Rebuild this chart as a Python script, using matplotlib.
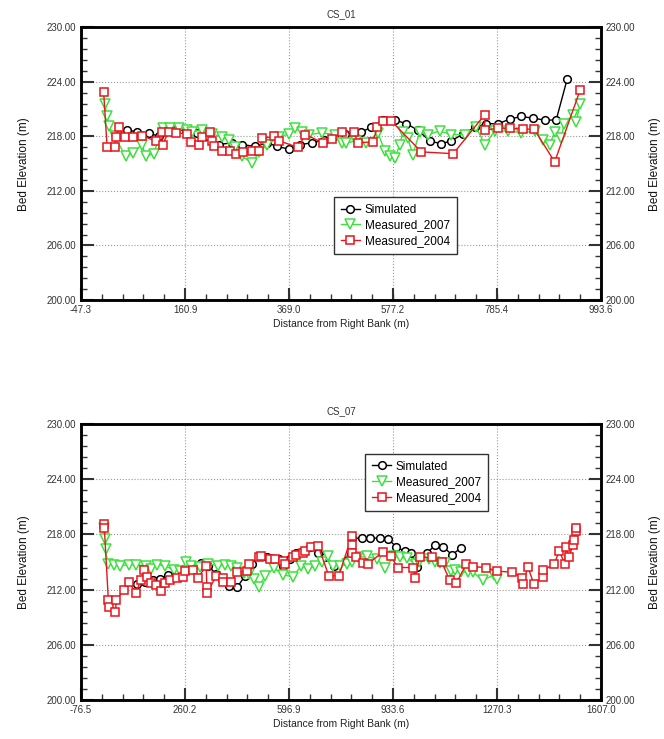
import matplotlib
matplotlib.use("Agg")
import matplotlib.pyplot as plt
from matplotlib.ticker import FixedLocator, AutoMinorLocator, FormatStrFormatter

plt.rcParams['font.family'] = ['Liberation Sans', 'DejaVu Sans']

# ---- CS_01 ----
cs01_xticks = [-47.3, 160.9, 369.0, 577.2, 785.4, 993.6]
cs01_sim_x = [45, 65, 88, 108, 135, 162, 185, 205, 228, 255, 275, 302, 325, 345, 369, 392, 415,
              439, 459, 482, 514, 534, 557, 581, 604, 627, 651, 673, 694, 718, 741, 764, 788,
              811, 834, 858, 881, 904, 926]
cs01_sim_y = [218.7, 218.5, 218.4, 218.0, 218.7, 218.7, 218.4, 218.0, 217.1, 217.3, 217.1, 216.9,
              217.3, 216.9, 216.6, 217.1, 217.3, 217.6, 218.0, 218.3, 218.5, 219.0, 219.8, 219.8,
              219.4, 218.7, 217.5, 217.2, 217.5, 218.3, 219.0, 219.4, 219.4, 219.9, 220.2, 220.0,
              219.8, 219.8, 224.3]
cs01_m07_x = [0, 5, 8, 20, 42, 56, 75, 82, 98, 116, 130, 148, 165, 175, 195, 215, 235, 248, 262,
              275, 295, 310, 325, 349, 369, 382, 395, 409, 435, 462, 475, 484, 504, 524, 547, 561,
              571, 581, 591, 597, 607, 617, 631, 647, 671, 694, 721, 744, 761, 781, 808, 834, 861,
              878, 891, 901, 914, 920, 938, 944, 952]
cs01_m07_y = [221.6, 220.2, 219.1, 218.0, 215.8, 216.2, 217.1, 215.8, 216.1, 218.9, 218.9, 218.9,
              218.7, 218.5, 218.7, 218.3, 217.9, 217.6, 216.8, 215.8, 215.1, 216.3, 217.1, 217.9,
              218.3, 218.9, 218.5, 218.2, 218.4, 218.2, 217.3, 217.3, 217.5, 217.3, 218.4, 216.4,
              215.8, 215.6, 217.1, 218.5, 217.8, 216.0, 218.5, 218.2, 218.6, 218.2, 218.2, 219.0,
              217.1, 218.6, 218.6, 218.4, 218.6, 217.6, 217.1, 218.5, 217.8, 219.4, 220.4, 219.6,
              221.6]
cs01_m04_x = [-2, 5, 20, 23, 28, 40, 56, 74, 102, 114, 116, 128, 142, 165, 172, 188, 195, 210, 214,
              218, 235, 250, 263, 278, 295, 310, 315, 339, 350, 387, 402, 437, 455, 476, 499, 507,
              537, 546, 557, 574, 634, 698, 761, 761, 788, 811, 838, 860, 901, 952]
cs01_m04_y = [222.9, 216.8, 216.8, 217.9, 219.0, 217.9, 217.9, 218.1, 217.5, 218.5, 217.1, 218.5,
              218.4, 218.3, 217.4, 217.1, 217.9, 218.5, 217.5, 216.9, 216.4, 216.4, 216.1, 216.3,
              216.4, 216.4, 217.8, 218.0, 217.5, 216.8, 218.2, 217.3, 217.7, 218.5, 218.5, 217.3,
              217.4, 219.0, 219.7, 219.7, 216.3, 216.1, 220.4, 218.7, 218.9, 218.9, 218.8, 218.8,
              215.2, 223.1]

# ---- CS_07 ----
cs07_xticks = [-76.5, 260.2, 596.9, 933.6, 1270.3, 1607.0]
cs07_sim_x = [105, 130, 155, 180, 205, 230, 255, 285, 313, 335, 361, 382, 404, 430, 455, 478, 499,
              526, 563, 579, 600, 621, 643, 664, 690, 712, 744, 781, 802, 834, 860, 892, 919, 945,
              972, 993, 1012, 1044, 1070, 1097, 1125, 1153]
cs07_sim_y = [212.6, 212.8, 213.0, 213.2, 213.6, 213.9, 214.2, 214.6, 214.9, 214.6, 213.7, 213.0,
              212.4, 212.3, 213.5, 214.8, 215.7, 215.5, 215.3, 214.6, 215.3, 216.0, 216.2, 216.6,
              216.0, 215.5, 214.6, 215.1, 217.6, 217.6, 217.6, 217.6, 217.5, 216.6, 216.2, 216.0,
              214.5, 216.0, 216.8, 216.6, 215.8, 216.5]
cs07_m07_x = [-2, 0, 3, 10, 30, 50, 80, 101, 133, 150, 170, 197, 223, 245, 265, 281, 310, 334, 366,
              390, 408, 430, 450, 467, 485, 499, 520, 549, 578, 610, 637, 660, 680, 705, 722, 740,
              763, 784, 800, 821, 850, 883, 908, 938, 956, 980, 1007, 1017, 1049, 1070, 1086, 1102,
              1123, 1134, 1155, 1176, 1192, 1224, 1261, 1271]
cs07_m07_y = [218.7, 217.5, 216.4, 214.8, 214.7, 214.6, 214.7, 214.7, 214.6, 214.2, 214.7, 214.6,
              214.1, 214.0, 215.0, 214.6, 214.5, 214.8, 214.6, 214.7, 214.6, 214.4, 213.8, 213.7,
              213.2, 212.3, 213.5, 214.3, 213.6, 213.4, 214.6, 214.2, 214.6, 215.0, 215.6, 214.6,
              214.6, 214.8, 215.0, 215.5, 215.6, 215.3, 214.4, 215.6, 215.5, 215.4, 214.8, 215.0,
              215.3, 215.0, 214.9, 214.9, 214.0, 214.1, 213.9, 213.9, 213.9, 213.0, 213.6, 213.2]
cs07_m04_x = [-3, -1, 12, 14, 35, 38, 64, 80, 101, 117, 128, 138, 149, 165, 181, 197, 212, 234,
              255, 260, 287, 303, 329, 331, 332, 361, 382, 384, 409, 430, 462, 467, 499, 506, 535,
              552, 579, 583, 609, 621, 641, 648, 668, 692, 726, 758, 800, 800, 802, 813, 835, 853,
              901, 928, 949, 1000, 1005, 1020, 1059, 1091, 1118, 1139, 1171, 1192, 1234, 1271,
              1319, 1353, 1356, 1370, 1390, 1419, 1421, 1456, 1472, 1490, 1494, 1505, 1515, 1520,
              1525, 1526]
cs07_m04_y = [219.1, 218.7, 210.9, 210.1, 209.6, 210.9, 212.0, 212.8, 211.6, 213.0, 214.1, 213.4,
              212.7, 212.5, 211.8, 212.7, 213.0, 213.3, 213.4, 214.0, 214.1, 213.3, 214.6, 212.3,
              211.6, 213.5, 213.3, 212.8, 212.8, 213.9, 214.0, 214.8, 215.5, 215.7, 215.3, 215.3,
              215.1, 214.8, 215.5, 215.8, 216.0, 216.2, 216.6, 216.7, 213.5, 213.5, 217.8, 216.9,
              216.0, 215.5, 214.9, 214.8, 216.1, 215.6, 214.4, 214.4, 213.3, 215.5, 215.5, 215.0,
              213.0, 212.7, 214.8, 214.5, 214.4, 214.0, 213.9, 213.3, 212.6, 214.5, 212.6, 213.4,
              214.1, 214.8, 216.2, 214.8, 216.6, 215.5, 216.9, 217.4, 218.4, 218.7]

yticks = [200, 206, 212, 218, 224, 230]
GREEN = '#3ee03e'
RED = '#e8141b'

fig = plt.figure(figsize=(6.64, 7.39), dpi=100)


def draw(rect, title, xticks, sim, m07, m04, leg_loc):
    ax = fig.add_axes(rect)
    ax.plot(sim[0], sim[1], color='black', lw=1, marker='o', ms=5.5, mfc='white', mew=1.1,
            label='Simulated', zorder=3)
    ax.plot(m07[0], m07[1], color=GREEN, lw=1, marker='v', ms=6.5, mfc='white', mew=1.1,
            label='Measured_2007', zorder=4)
    ax.plot(m04[0], m04[1], color=RED, lw=1, marker='s', ms=6, mfc='white', mew=1.1,
            label='Measured_2004', zorder=5)
    ax.set_xlim(xticks[0], xticks[-1])
    ax.set_ylim(200, 230)
    ax.xaxis.set_major_locator(FixedLocator(xticks))
    ax.xaxis.set_minor_locator(AutoMinorLocator(5))
    ax.yaxis.set_major_locator(FixedLocator(yticks))
    ax.yaxis.set_minor_locator(AutoMinorLocator(5))
    ax.xaxis.set_major_formatter(FormatStrFormatter('%.1f'))
    ax.yaxis.set_major_formatter(FormatStrFormatter('%.2f'))
    ax.grid(True, which='major', color='#999999', ls=':', lw=0.8)
    ax.tick_params(which='both', direction='in', top=False, right=False, labelsize=7,
                   colors='#333333', width=1.5)
    ax.tick_params(which='major', length=9)
    ax.tick_params(which='minor', length=4, width=1)
    for s in ax.spines.values():
        s.set_linewidth(1.8)
    ax.set_title(title, fontsize=7, color='#333333', pad=7)
    ax.set_xlabel('Distance from Right Bank (m)', fontsize=7.5, color='#222222', labelpad=3)
    ax.set_ylabel('Bed Elevation (m)', fontsize=8.5, color='#111111', labelpad=12)

    ax2 = ax.twinx()
    ax2.set_ylim(200, 230)
    ax2.yaxis.set_major_locator(FixedLocator(yticks))
    ax2.yaxis.set_minor_locator(AutoMinorLocator(5))
    ax2.yaxis.set_major_formatter(FormatStrFormatter('%.2f'))
    ax2.tick_params(which='both', direction='in', labelsize=7, colors='#333333', width=1.5)
    ax2.tick_params(which='major', length=9)
    ax2.tick_params(which='minor', length=4, width=1)
    ax2.set_ylabel('Bed Elevation (m)', fontsize=8.5, color='#111111', labelpad=10)
    ax2.yaxis.set_label_position('right')
    for s in ax2.spines.values():
        s.set_linewidth(1.8)

    leg = ax2.legend(*ax.get_legend_handles_labels(), loc='upper left',
                     bbox_to_anchor=leg_loc, fontsize=8.5, frameon=True, fancybox=False,
                     framealpha=1, edgecolor='#333333', handlelength=1.6, handletextpad=0.4,
                     borderpad=0.6, labelspacing=0.3)
    leg.get_frame().set_linewidth(1)
    return ax


draw([0.122, 0.594, 0.783, 0.369], 'CS_01', cs01_xticks,
     (cs01_sim_x, cs01_sim_y), (cs01_m07_x, cs01_m07_y), (cs01_m04_x, cs01_m04_y),
     (0.475, 0.40))
draw([0.122, 0.053, 0.783, 0.373], 'CS_07', cs07_xticks,
     (cs07_sim_x, cs07_sim_y), (cs07_m07_x, cs07_m07_y), (cs07_m04_x, cs07_m04_y),
     (0.535, 0.915))

fig.savefig('out.png', dpi=100)
